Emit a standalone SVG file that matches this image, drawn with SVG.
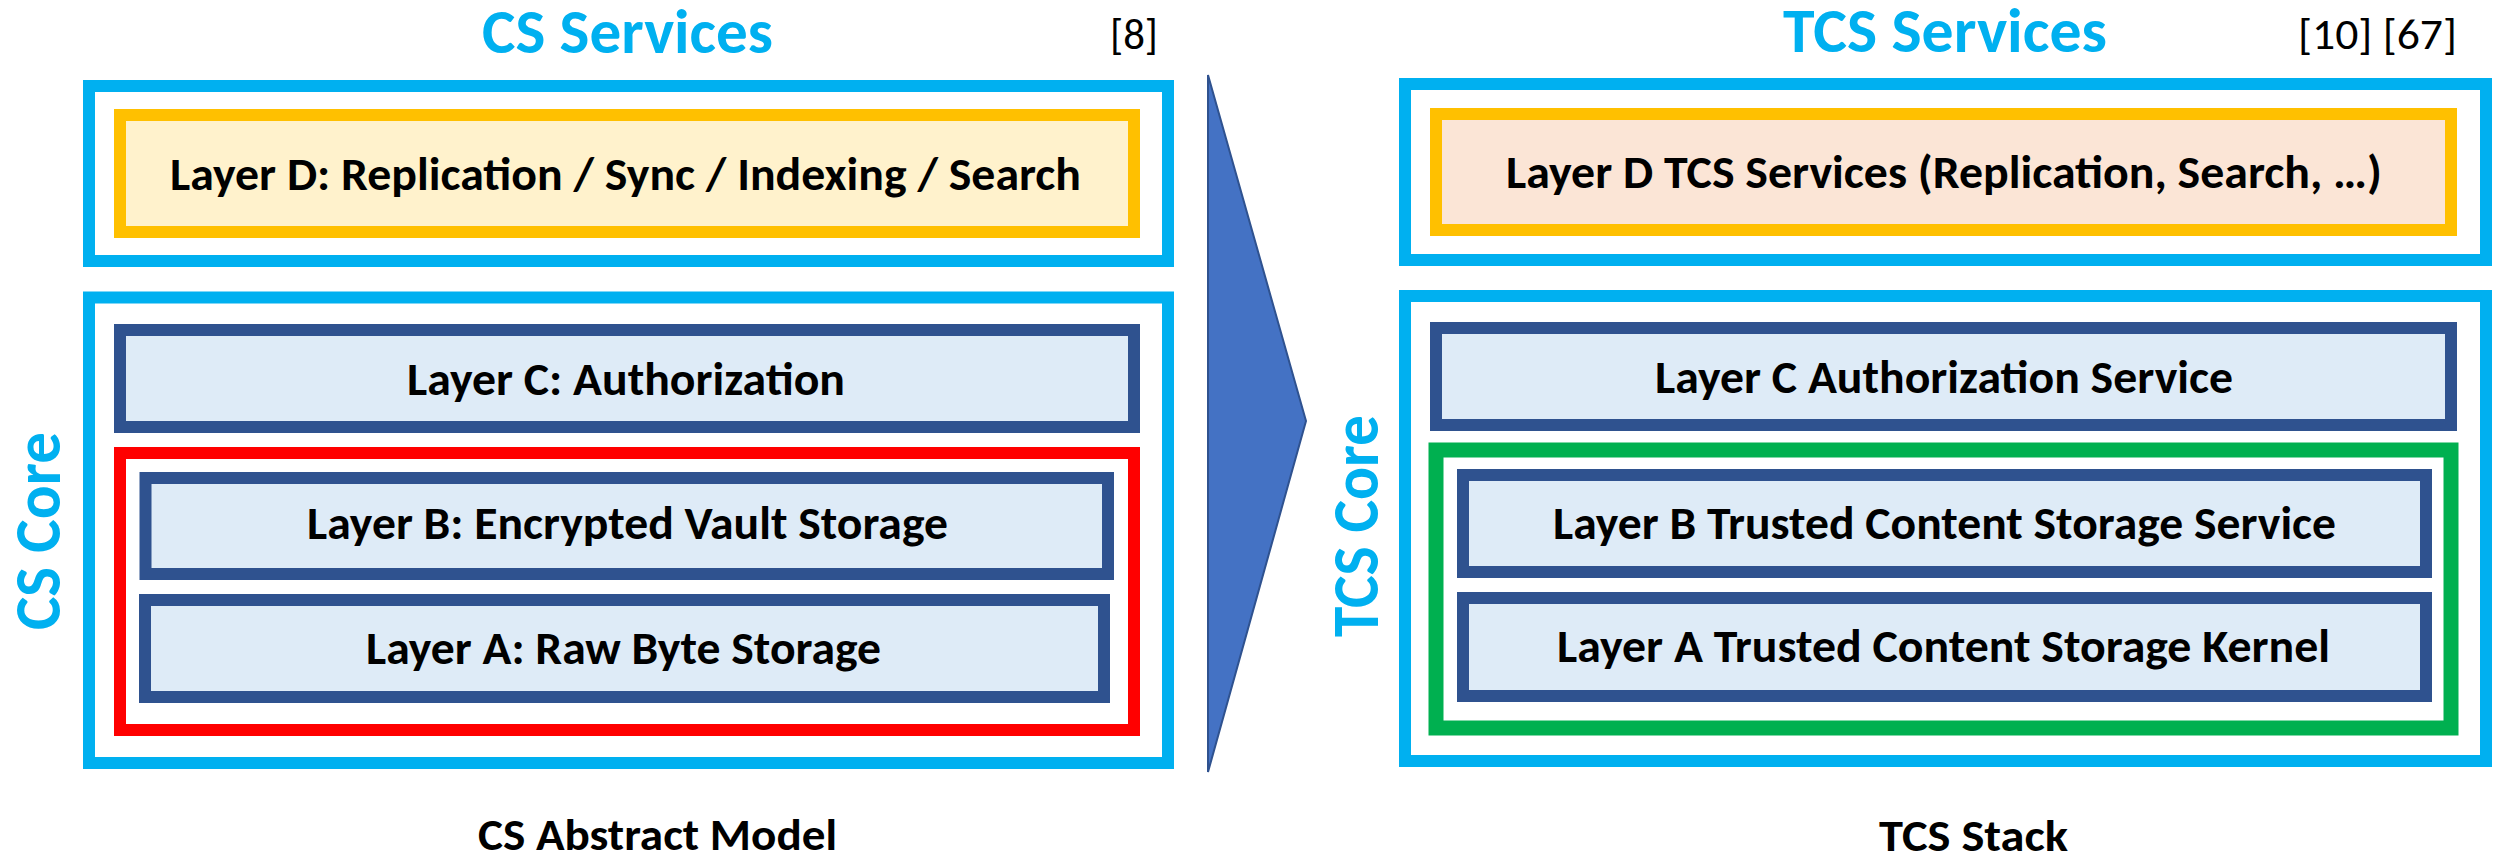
<svg xmlns="http://www.w3.org/2000/svg" width="2496" height="858" viewBox="0 0 2496 858">
  <style>
    .bg { fill: #ffffff; }
    .frame { fill: #ffffff; stroke: #00B0F0; stroke-width: 12; }
    .svc { fill: #FFF2CC; stroke: #FFC000; stroke-width: 12; }
    .svc-tcs { fill: #FBE5D6; stroke: #FFC000; stroke-width: 12; }
    .layer { fill: #DEEBF7; stroke: #2F528F; stroke-width: 12; }
    .vault { fill: #ffffff; stroke: #FF0000; stroke-width: 12; }
    .trusted { fill: #ffffff; stroke: #00B050; stroke-width: 15; }
    .arrow { fill: #4472C4; stroke: #2F528F; stroke-width: 2; stroke-linejoin: miter; }
    text { font-family: Carlito, "Liberation Sans Narrow", "Liberation Sans", Arial, sans-serif; }
    .title { font-size: 62px; font-weight: bold; fill: #00B0F0; }
    .side { font-size: 66px; font-weight: bold; fill: #00B0F0; }
    .ref { font-size: 43px; fill: #000000; }
    .lbl { font-size: 46px; font-weight: bold; fill: #000000; }
    .cap { font-size: 44px; font-weight: bold; fill: #000000; }
  </style>

  <rect class="bg" x="0" y="0" width="2496" height="858"/>

  <!-- Left stack: CS abstract model -->
  <g id="cs-header">
    <text class="title" x="482" y="53" textLength="291" lengthAdjust="spacingAndGlyphs">CS Services</text>
    <text class="ref" x="1110" y="49" textLength="48" lengthAdjust="spacingAndGlyphs">[8]</text>
  </g>
  <g id="cs-services">
    <rect class="frame" x="89" y="86" width="1079" height="175"/>
  </g>
  <g id="cs-layer-d">
    <rect class="svc" x="120" y="115" width="1014" height="117"/>
    <text class="lbl" x="170" y="190" textLength="911" lengthAdjust="spacingAndGlyphs">Layer D: Replication / Sync / Indexing / Search</text>
  </g>
  <g id="cs-core">
    <rect class="frame" x="89" y="297.5" width="1079" height="465.5"/>
    <text class="side" transform="translate(60,630) rotate(-90)" x="0" y="0" textLength="198" lengthAdjust="spacingAndGlyphs">CS Core</text>
  </g>
  <g id="cs-layer-c">
    <rect class="layer" x="120" y="330" width="1014" height="97"/>
    <text class="lbl" x="407" y="395" textLength="438" lengthAdjust="spacingAndGlyphs">Layer C: Authorization</text>
  </g>
  <g id="cs-vault">
    <rect class="vault" x="120" y="453" width="1014" height="277"/>
  </g>
  <g id="cs-layer-b">
    <rect class="layer" x="145.5" y="478" width="962.5" height="96"/>
    <text class="lbl" x="307" y="539" textLength="641" lengthAdjust="spacingAndGlyphs">Layer B: Encrypted Vault Storage</text>
  </g>
  <g id="cs-layer-a">
    <rect class="layer" x="145" y="600" width="959" height="97"/>
    <text class="lbl" x="366" y="664" textLength="515" lengthAdjust="spacingAndGlyphs">Layer A: Raw Byte Storage</text>
  </g>
  <g id="cs-caption">
    <text class="cap" x="478" y="850" textLength="359" lengthAdjust="spacingAndGlyphs">CS Abstract Model</text>
  </g>

  <!-- Transition chevron between the two stacks -->
  <g id="connectors">
    <polygon class="arrow" points="1208,75 1306,421 1208,772"/>
  </g>

  <!-- Right stack: TCS -->
  <g id="tcs-header">
    <text class="title" x="1783" y="52" textLength="324" lengthAdjust="spacingAndGlyphs">TCS Services</text>
    <text class="ref" x="2298" y="49" textLength="159" lengthAdjust="spacingAndGlyphs">[10] [67]</text>
  </g>
  <g id="tcs-services">
    <rect class="frame" x="1405" y="84" width="1081" height="176"/>
  </g>
  <g id="tcs-layer-d">
    <rect class="svc-tcs" x="1436" y="114" width="1015" height="116"/>
    <text class="lbl" x="1506" y="188" textLength="876" lengthAdjust="spacingAndGlyphs">Layer D TCS Services (Replication, Search, …)</text>
  </g>
  <g id="tcs-core">
    <rect class="frame" x="1405" y="296" width="1081" height="465"/>
    <text class="side" transform="translate(1378,637) rotate(-90)" x="0" y="0" textLength="222" lengthAdjust="spacingAndGlyphs">TCS Core</text>
  </g>
  <g id="tcs-layer-c">
    <rect class="layer" x="1436" y="328" width="1015" height="97"/>
    <text class="lbl" x="1655" y="393" textLength="578" lengthAdjust="spacingAndGlyphs">Layer C Authorization Service</text>
  </g>
  <g id="tcs-trusted">
    <rect class="trusted" x="1436" y="450" width="1015" height="278"/>
  </g>
  <g id="tcs-layer-b">
    <rect class="layer" x="1463" y="475" width="963" height="97"/>
    <text class="lbl" x="1553" y="539" textLength="783" lengthAdjust="spacingAndGlyphs">Layer B Trusted Content Storage Service</text>
  </g>
  <g id="tcs-layer-a">
    <rect class="layer" x="1463" y="598" width="963" height="98"/>
    <text class="lbl" x="1557" y="662" textLength="773" lengthAdjust="spacingAndGlyphs">Layer A Trusted Content Storage Kernel</text>
  </g>
  <g id="tcs-caption">
    <text class="cap" x="1879" y="851" textLength="189" lengthAdjust="spacingAndGlyphs">TCS Stack</text>
  </g>
</svg>
